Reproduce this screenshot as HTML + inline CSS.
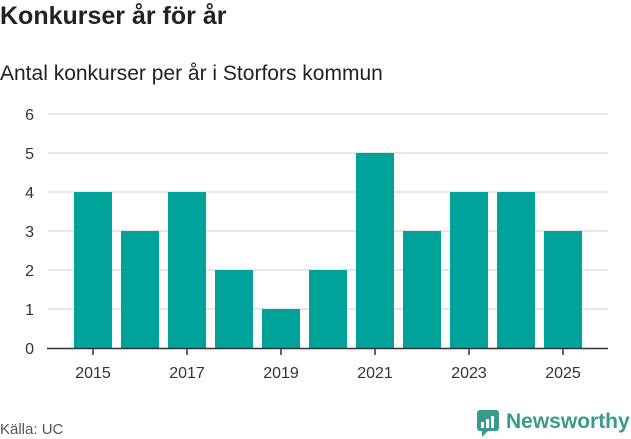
<!DOCTYPE html>
<html><head><meta charset="utf-8"><style>
body{margin:0;width:631px;height:439px;background:#fff;font-family:"Liberation Sans",sans-serif;overflow:hidden;position:relative}
.t{position:absolute;left:0;top:2px;font-size:25px;font-weight:bold;color:#222}
.s{position:absolute;left:0;top:62px;font-size:21px;color:#222}
.src{position:absolute;left:0;top:421px;font-size:15px;color:#555}
</style></head><body>
<div class="t">Konkurser år för år</div>
<div class="s">Antal konkurser per år i Storfors kommun</div>
<div class="src">Källa: UC</div>
<svg id="c" width="631" height="439" style="position:absolute;left:0;top:0">
<g>
<rect x="477" y="410" width="22" height="21" rx="3" fill="#3a9a8c"/>
<path d="M482 431 L482 437 L488 431 Z" fill="#3a9a8c"/>
<rect x="481" y="422" width="3" height="6" fill="#fff"/><rect x="486" y="419" width="3" height="9" fill="#fff"/><rect x="491" y="416" width="3" height="12" fill="#fff"/>
<text x="506" y="428" font-size="21" font-weight="bold" fill="#3a9a8c" font-family="Liberation Sans, sans-serif">Newsworthy</text>
</g>
</svg>
<script>
const years=[2015,2016,2017,2018,2019,2020,2021,2022,2023,2024,2025];
const values=[4,3,4,2,1,2,5,3,4,4,3];
const yTicks=[0,1,2,3,4,5,6];
const svg=document.getElementById('c');const NS='http://www.w3.org/2000/svg';
const y=v=>348-v*39;const x=i=>93+i*47;
function mk(t,a){const e=document.createElementNS(NS,t);for(const k in a)e.setAttribute(k,a[k]);svg.appendChild(e);return e;}
yTicks.forEach(v=>{
 if(v>0){const g=mk('line',{x1:48,x2:608,y1:y(v),y2:y(v),stroke:'#ddd','stroke-width':1.5});
 
 }
 const t=mk('text',{x:34,y:y(v)+6,'text-anchor':'end','font-size':16,fill:'#333','font-family':'Liberation Sans, sans-serif'});t.textContent=v;
 
 
});
values.forEach((v,i)=>{
 const r=mk('rect',{x:x(i)-19,y:y(v),width:38,height:y(0)-y(v),fill:'#00a39a'});
 
 
});
const ax=mk('line',{x1:47,x2:608,y1:348.5,y2:348.5,stroke:'#333','stroke-width':1.5});


years.forEach((yr,i)=>{if(i%2)return;
 const tk=mk('line',{x1:x(i),x2:x(i),y1:349,y2:355,stroke:'#333','stroke-width':1.5});
 
 
 const t=mk('text',{x:x(i),y:378,'text-anchor':'middle','font-size':16,fill:'#333','font-family':'Liberation Sans, sans-serif'});t.textContent=yr;
 
 
});
</script>
</body></html>
